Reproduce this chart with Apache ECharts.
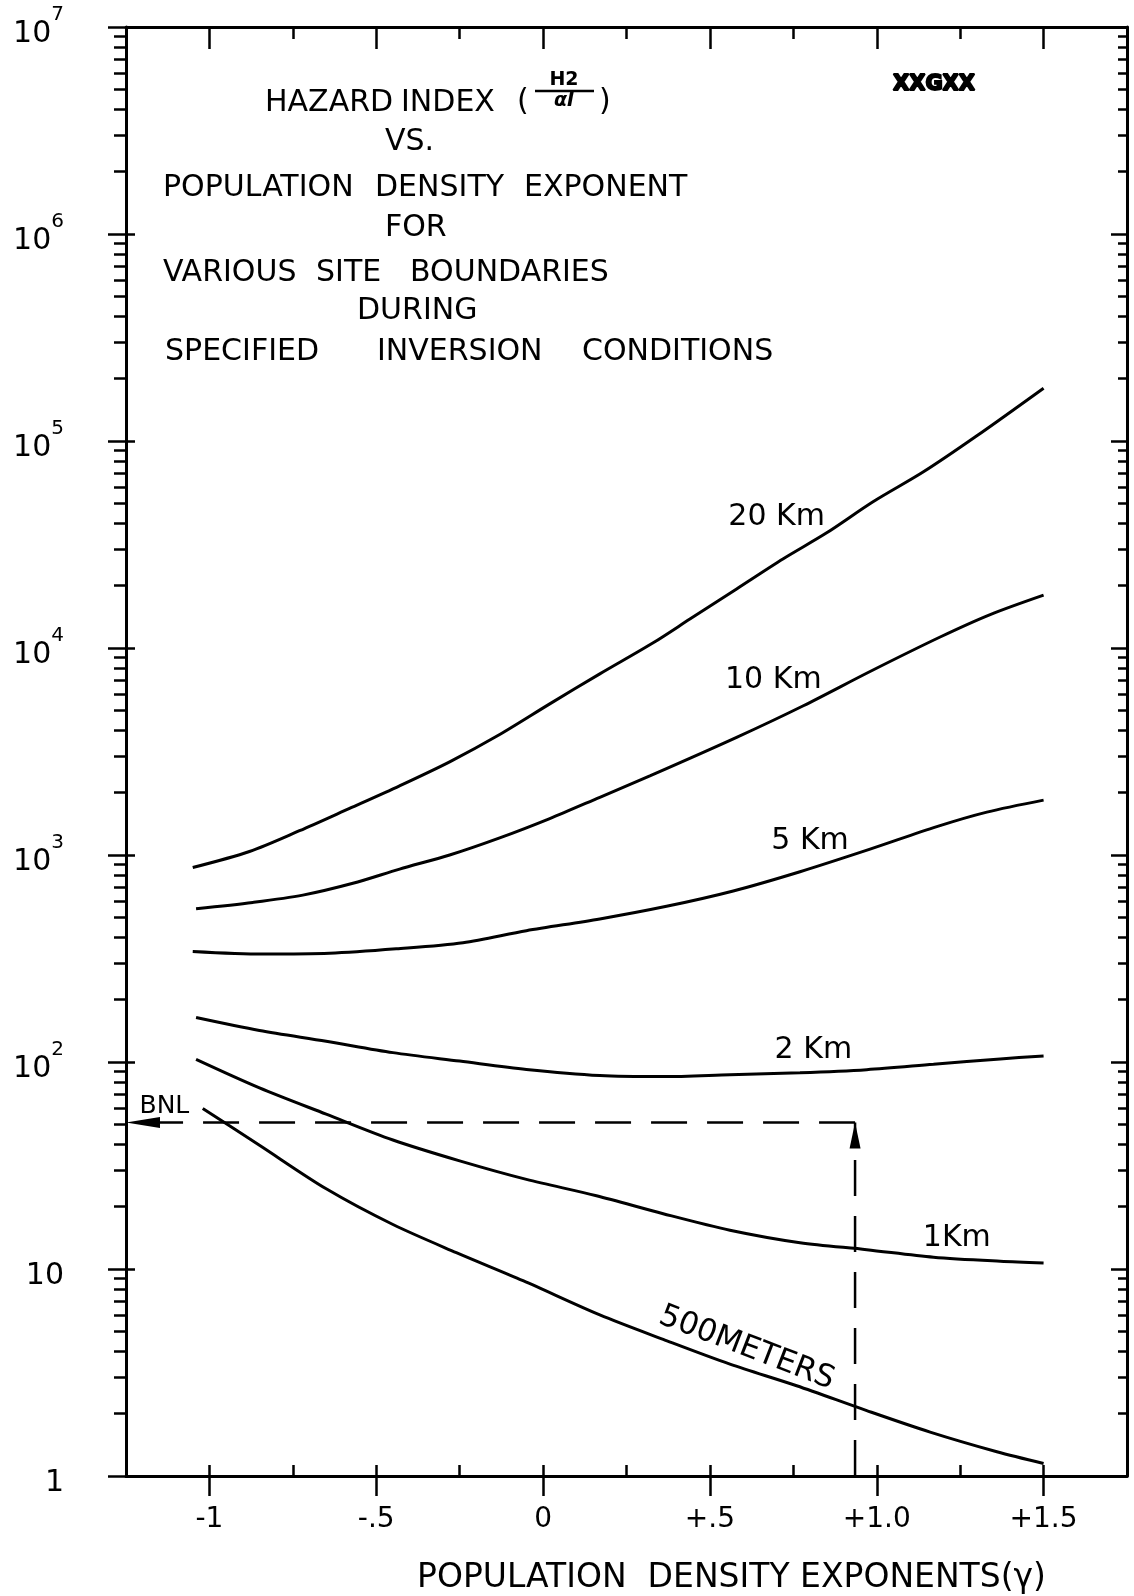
<!DOCTYPE html>
<html>
<head>
<meta charset="utf-8">
<script src="https://cdn.jsdelivr.net/npm/echarts@6/dist/echarts.min.js"></script>
<style>
  html, body { margin: 0; padding: 0; background: #fff; }
  #chart-container { width: 1134px; height: 1596px; }
</style>
</head>
<body>
<div id="chart-container"></div>
<script>
// hazard index vs population density exponent, one curve per site boundary
var km20 = [[-1.05, 870], [-0.88, 1040], [-0.73, 1310], [-0.58, 1680], [-0.43, 2160], [-0.28, 2820],
  [-0.13, 3820], [0.02, 5370], [0.17, 7500], [0.33, 10600], [0.44, 13800], [0.58, 19300], [0.72, 27000],
  [0.85, 36000], [0.99, 51000], [1.14, 71000], [1.3, 106000], [1.5, 180000]];
var km10 = [[-1.04, 550], [-0.87, 590], [-0.72, 640], [-0.57, 730], [-0.43, 855], [-0.28, 1000],
  [-0.13, 1210], [0.02, 1500], [0.17, 1900], [0.32, 2410], [0.58, 3700], [0.78, 5260], [0.98, 7700],
  [1.19, 11300], [1.34, 14500], [1.5, 18000]];
var km5 = [[-1.05, 342], [-0.84, 332], [-0.64, 335], [-0.44, 352], [-0.24, 377], [-0.05, 431],
  [0.17, 491], [0.37, 565], [0.57, 670], [0.77, 830], [0.98, 1067], [1.18, 1371], [1.33, 1611], [1.5, 1841]];
var km2 = [[-1.04, 164], [-0.85, 142], [-0.65, 126], [-0.45, 111], [-0.25, 101], [-0.05, 92],
  [0.17, 86], [0.36, 85], [0.56, 86.8], [0.77, 88.7], [0.97, 91.8], [1.17, 97.5], [1.37, 103.5], [1.5, 107]];
var km1 = [[-1.04, 103], [-0.85, 75], [-0.65, 56], [-0.45, 42], [-0.25, 33.3], [-0.05, 27.1],
  [0.16, 22.6], [0.36, 18.5], [0.56, 15.4], [0.77, 13.4], [0.97, 12.4], [1.17, 11.4], [1.37, 10.9], [1.5, 10.7]];
var m500 = [[-1.02, 59.6], [-0.85, 39.6], [-0.65, 24.4], [-0.45, 16.4], [-0.26, 12.0], [-0.06, 8.78],
  [0.17, 6.0], [0.36, 4.57], [0.56, 3.47], [0.76, 2.73], [0.97, 2.07], [1.16, 1.63], [1.36, 1.31], [1.5, 1.15]];

// BNL reading: gamma and hazard index
var bnlGamma = 0.935;
var bnlLevel = 51;

// axis ticks
var xMajorTicks = [-1, -0.5, 0, 0.5, 1, 1.5];
var xTickText = ['-1', '-.5', '0', '+.5', '+1.0', '+1.5'];
var xMinorTicks = [-0.75, -0.25, 0.25, 0.75, 1.25];
var xQuarterTicks = [-1, -0.75, -0.5, -0.25, 0, 0.25, 0.5, 0.75, 1, 1.25, 1.5];
var yDecades = [1, 10, 100, 1000, 10000, 100000, 1000000, 10000000];
var yMantissas = [2, 3, 4, 5, 6, 7, 8, 9];

// curve names and where their labels sit (data coords)
var curveLabels = [
  { name: '20 Km', value: [0.70, 43000] },
  { name: '10 Km', value: [0.69, 7000] },
  { name: '5 Km', value: [0.80, 1170] },
  { name: '2 Km', value: [0.81, 114] },
  { name: '1Km', value: [1.24, 14.1] },
  { name: '500METERS', value: [0.61, 4.15], rotate: -21, size: 31 },
  { name: 'BNL', value: [-1.135, 61], size: 25 }
];

var yMinorTicks = [];
for (var d = 0; d < yDecades.length - 1; d++) {
  for (var m = 0; m < yMantissas.length; m++) {
    yMinorTicks.push(yMantissas[m] * yDecades[d]);
  }
}

var FONT = '"DejaVu Sans", sans-serif';
var BLACK = '#000';

function xLabel(v) {
  for (var i = 0; i < xMajorTicks.length; i++) {
    if (Math.abs(xMajorTicks[i] - v) < 1e-6) return xTickText[i];
  }
  return '';
}

function yLabel(v) {
  var e = Math.round(Math.log(v) / Math.LN10);
  if (e === 0) return '{b|1}';
  if (e === 1) return '{b|10}';
  return '{b|10}{s|' + e + '}';
}

function xAxisOf(pos, ticks, inside, len, withLine) {
  return {
    type: 'value', position: pos, min: -1.25, max: 1.75,
    splitLine: { show: false },
    axisLine: { show: withLine, onZero: false, lineStyle: { color: BLACK, width: 3 } },
    axisTick: { show: true, inside: inside, length: len, customValues: ticks, lineStyle: { color: BLACK, width: 2.5 } },
    axisLabel: { show: false }
  };
}

function yAxisOf(pos, ticks, inside, len, withLine) {
  return {
    type: 'log', logBase: 10, position: pos, min: 1, max: 10000000,
    splitLine: { show: false },
    axisLine: { show: withLine, onZero: false, lineStyle: { color: BLACK, width: 3 } },
    axisTick: { show: true, inside: inside, length: len, customValues: ticks, lineStyle: { color: BLACK, width: 2.5 } },
    axisLabel: { show: false }
  };
}

var dom = document.getElementById('chart-container');
var myChart = echarts.init(dom, null, {
  renderer: 'canvas',
  useDirtyRect: false
});

var xMain = xAxisOf('bottom', xMajorTicks, false, 20, true);
xMain.axisLabel = {
  show: true, customValues: xMajorTicks, formatter: xLabel, margin: 30,
  color: BLACK, fontSize: 28, fontFamily: FONT
};
xMain.name = 'POPULATION  DENSITY EXPONENTS(\u03b3)';
xMain.nameLocation = 'middle';
xMain.nameGap = 86;
xMain.nameTextStyle = { color: BLACK, fontSize: 33, fontFamily: FONT, padding: [0, 0, 0, 210] };

var yMain = yAxisOf('left', yDecades, false, 18, true);
yMain.axisLabel = {
  show: true, customValues: yDecades, formatter: yLabel, margin: 62, color: BLACK,
  rich: {
    b: { fontSize: 30, fontFamily: FONT, color: BLACK, lineHeight: 44, verticalAlign: 'bottom' },
    s: { fontSize: 20, fontFamily: FONT, color: BLACK, lineHeight: 22, verticalAlign: 'top' }
  }
};

function curve(name, data) {
  return {
    name: name, type: 'line', data: data,
    xAxisIndex: 0, yAxisIndex: 0,
    smooth: 0.3,
    symbol: 'none', silent: true,
    lineStyle: { color: BLACK, width: 3 }
  };
}

var option;

option = {
  backgroundColor: '#fff',
  animation: false,
  grid: { left: 126, right: 7, top: 27, bottom: 120, containLabel: false, outerBoundsMode: 'none' },
  xAxis: [
    xMain,
    xAxisOf('bottom', xQuarterTicks, true, 11, false),
    xAxisOf('top', xMajorTicks, true, 22, true),
    xAxisOf('top', xMinorTicks, true, 12, false)
  ],
  yAxis: [
    yMain,
    yAxisOf('left', yMinorTicks, false, 12, false),
    yAxisOf('left', yDecades, true, 9, false),
    yAxisOf('right', yDecades, true, 16, true),
    yAxisOf('right', yMinorTicks, true, 9, false)
  ],
  series: [
    curve('20 Km', km20),
    curve('10 Km', km10),
    curve('5 Km', km5),
    curve('2 Km', km2),
    curve('1 Km', km1),
    curve('500 meters', m500),
    {
      name: 'BNL up', type: 'line', xAxisIndex: 0, yAxisIndex: 0, silent: true,
      symbol: 'none', showSymbol: true,
      data: [[bnlGamma, 1], { value: [bnlGamma, bnlLevel], symbol: 'triangle', symbolSize: [11, 26], symbolOffset: [0, 13] }],
      lineStyle: { color: BLACK, width: 2.5, type: [36, 20] },
      itemStyle: { color: BLACK }
    },
    {
      name: 'BNL left', type: 'line', xAxisIndex: 0, yAxisIndex: 0, silent: true,
      symbol: 'none', showSymbol: true,
      data: [[bnlGamma, bnlLevel], { value: [-1.25, bnlLevel], symbol: 'triangle', symbolRotate: 90, symbolSize: [11, 34], symbolOffset: [17, 0] }],
      lineStyle: { color: BLACK, width: 2.5, type: [36, 20] },
      itemStyle: { color: BLACK }
    },
    {
      name: 'labels', type: 'scatter', xAxisIndex: 0, yAxisIndex: 0, silent: true,
      symbolSize: 2, itemStyle: { color: 'rgba(0,0,0,0)', opacity: 1 },
      data: curveLabels.map(function (c) {
        return {
          name: c.name, value: c.value,
          label: { rotate: c.rotate || 0, fontSize: c.size || 30 }
        };
      }),
      label: {
        show: true, position: 'inside', formatter: '{b}', opacity: 1,
        color: BLACK, fontFamily: FONT, fontSize: 30
      }
    }
  ],
  graphic: [
    { type: 'text', style: { x: 265, y: 103, text: 'HAZARD', font: '30px ' + FONT, fill: BLACK, verticalAlign: 'middle' } },
    { type: 'text', style: { x: 401, y: 103, text: 'INDEX', font: '30px ' + FONT, fill: BLACK, verticalAlign: 'middle' } },
    { type: 'text', style: { x: 517, y: 102, text: '(', font: '30px ' + FONT, fill: BLACK, verticalAlign: 'middle' } },
    { type: 'text', style: { x: 564, y: 80, text: 'H2', font: 'bold 19px ' + FONT, fill: BLACK, align: 'center', verticalAlign: 'middle' } },
    { type: 'line', shape: { x1: 535, y1: 91, x2: 594, y2: 91 }, style: { stroke: BLACK, lineWidth: 2.5 } },
    { type: 'text', style: { x: 564, y: 101, text: '\u03b1I', font: 'italic bold 19px ' + FONT, fill: BLACK, align: 'center', verticalAlign: 'middle' } },
    { type: 'text', style: { x: 599, y: 102, text: ')', font: '30px ' + FONT, fill: BLACK, verticalAlign: 'middle' } },
    { type: 'text', style: { x: 385, y: 142, text: 'VS.', font: '30px ' + FONT, fill: BLACK, verticalAlign: 'middle' } },
    { type: 'text', style: { x: 163, y: 188, text: 'POPULATION', font: '30px ' + FONT, fill: BLACK, verticalAlign: 'middle' } },
    { type: 'text', style: { x: 375, y: 188, text: 'DENSITY', font: '30px ' + FONT, fill: BLACK, verticalAlign: 'middle' } },
    { type: 'text', style: { x: 524, y: 188, text: 'EXPONENT', font: '30px ' + FONT, fill: BLACK, verticalAlign: 'middle' } },
    { type: 'text', style: { x: 385, y: 228, text: 'FOR', font: '30px ' + FONT, fill: BLACK, verticalAlign: 'middle' } },
    { type: 'text', style: { x: 163, y: 273, text: 'VARIOUS', font: '30px ' + FONT, fill: BLACK, verticalAlign: 'middle' } },
    { type: 'text', style: { x: 316, y: 273, text: 'SITE', font: '30px ' + FONT, fill: BLACK, verticalAlign: 'middle' } },
    { type: 'text', style: { x: 410, y: 273, text: 'BOUNDARIES', font: '30px ' + FONT, fill: BLACK, verticalAlign: 'middle' } },
    { type: 'text', style: { x: 357, y: 311, text: 'DURING', font: '30px ' + FONT, fill: BLACK, verticalAlign: 'middle' } },
    { type: 'text', style: { x: 165, y: 352, text: 'SPECIFIED', font: '30px ' + FONT, fill: BLACK, verticalAlign: 'middle' } },
    { type: 'text', style: { x: 377, y: 352, text: 'INVERSION', font: '30px ' + FONT, fill: BLACK, verticalAlign: 'middle' } },
    { type: 'text', style: { x: 582, y: 352, text: 'CONDITIONS', font: '30px ' + FONT, fill: BLACK, verticalAlign: 'middle' } },
    { type: 'text', style: { x: 934, y: 85, text: 'XXGXX', font: 'bold 21px ' + FONT, fill: BLACK, stroke: BLACK, lineWidth: 2, align: 'center', verticalAlign: 'middle' } }
  ]
};

if (option && typeof option === 'object') {
  myChart.setOption(option);
}

window.addEventListener('resize', myChart.resize);
</script>
</body>
</html>
